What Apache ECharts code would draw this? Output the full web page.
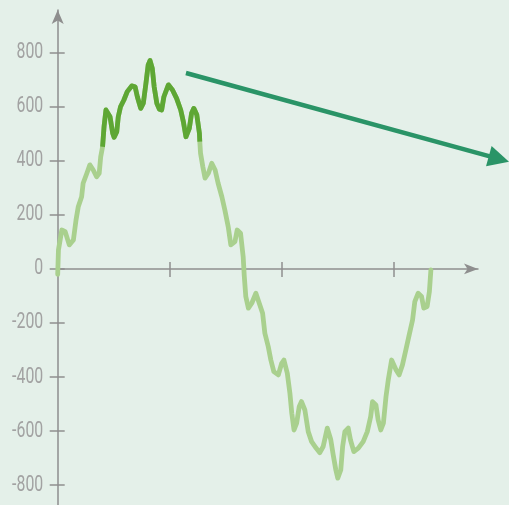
<!DOCTYPE html>
<html>
<head>
<meta charset="utf-8">
<script src="https://cdn.jsdelivr.net/npm/echarts@6/dist/echarts.min.js"></script>
<style>
  html, body { margin: 0; padding: 0; background: #e4f0e9; }
  #chart { width: 509px; height: 505px; }
</style>
</head>
<body>
<div id="chart"></div>
<script>
  // curve, x in axis units (0..10), y in axis values
  const xs = [0.00, 0.02, 0.11, 0.20, 0.31, 0.42, 0.49, 0.55, 0.64, 0.68, 0.78, 0.86, 0.95, 1.04, 1.11, 1.15,
    1.20, 1.24, 1.29, 1.34, 1.40, 1.47, 1.51, 1.58, 1.62, 1.68, 1.77, 1.86, 1.98, 2.07, 2.13, 2.22, 2.29, 2.36,
    2.42, 2.47, 2.53, 2.58, 2.65, 2.72, 2.78, 2.84, 2.96, 3.07, 3.18, 3.29, 3.36, 3.43, 3.52, 3.58, 3.64, 3.72,
    3.79, 3.80, 3.82, 3.88, 3.94, 4.03, 4.12, 4.21, 4.29, 4.39, 4.47, 4.56, 4.63, 4.74, 4.80, 4.89, 4.96, 4.99,
    5.03, 5.10, 5.19, 5.30, 5.39, 5.48, 5.54, 5.63, 5.70, 5.78, 5.90, 5.99, 6.05, 6.14, 6.21, 6.26, 6.32, 6.39,
    6.46, 6.52, 6.61, 6.70, 6.79, 6.91, 7.01, 7.10, 7.21, 7.30, 7.37, 7.44, 7.49, 7.57, 7.62, 7.68, 7.77, 7.83,
    7.92, 8.04, 8.17, 8.28, 8.37, 8.42, 8.51, 8.57, 8.64, 8.71, 8.78, 8.84, 8.93, 9.05, 9.13, 9.22, 9.31, 9.40,
    9.49, 9.55, 9.64, 9.73, 9.79, 9.88, 9.94, 9.98];
  const ys = [-20, 70, 144, 138, 89, 107, 181, 230, 267, 317, 354, 385, 366, 341, 354, 415,
    452, 527, 588, 594, 563, 502, 487, 508, 563, 600, 625, 656, 677, 674, 637, 594, 613, 687,
    755, 771, 742, 674, 613, 591, 588, 637, 681, 662, 631, 588, 545, 489, 520, 576, 594, 570,
    502, 471, 428, 379, 336, 354, 391, 366, 317, 267, 218, 156, 89, 101, 144, 132, 45, -28,
    -102, -145, -127, -90, -127, -164, -238, -287, -337, -380, -392, -349, -337, -386, -460, -534, -596, -571,
    -509, -491, -522, -602, -639, -663, -680, -657, -589, -630, -690, -745, -774, -744, -657, -602, -589, -633,
    -676, -663, -639, -602, -546, -491, -503, -559, -596, -571, -472, -411, -337, -374, -392, -355, -300, -244,
    -189, -121, -90, -102, -145, -139, -84, -4];
  // highlighted stretch of the curve
  const highlightFrom = 1.2;
  const highlightTo = 3.8;
  const xTicks = [3, 6, 9];
  const yTicks = [-800, -600, -400, -200, 0, 200, 400, 600, 800];
  // the arrow annotation, in axis units (end = centre of the head)
  const arrowFrom = [3.43, 725];
  const arrowTo = [11.80, 407];

  const axisColor = '#8e8e8e';
  const labelColor = '#a2a2a2';
  const lightGreen = '#a9d08e';
  const darkGreen = '#5ea734';
  const arrowGreen = '#2a9467';

  const allPoints = xs.map((x, i) => [x, ys[i]]);
  const highPoints = allPoints.filter(p => p[0] >= highlightFrom && p[0] <= highlightTo);

  const chart = echarts.init(document.getElementById('chart'));
  const xMin = 0, xMax = 11.24;
  const yMin = -892, yMax = 958;

  const option = {
    animation: false,
    backgroundColor: '#e4f0e9',
    grid: { left: 57.7, right: 31, top: 10, bottom: -5, containLabel: false, outerBoundsMode: 'none' },
    xAxis: [
      {
        type: 'value', min: xMin, max: xMax,
        axisLine: {
          show: true, onZero: true,
          symbol: ['none', 'arrow'], symbolSize: [8, 14],
          lineStyle: { color: axisColor, width: 1.5 },
        },
        axisTick: { show: true, customValues: xTicks, length: 8, lineStyle: { color: axisColor, width: 1.5 } },
        axisLabel: { show: false },
        splitLine: { show: false },
      },
      {
        type: 'value', position: 'bottom', min: xMin, max: xMax,
        axisLine: { show: false, onZero: true },
        axisTick: { show: true, inside: true, customValues: xTicks, length: 7, lineStyle: { color: axisColor, width: 1.5 } },
        axisLabel: { show: false },
        splitLine: { show: false },
      },
    ],
    yAxis: [
      {
        type: 'value', min: yMin, max: yMax,
        axisLine: {
          show: true, onZero: true,
          symbol: ['none', 'arrow'], symbolSize: [9, 14],
          lineStyle: { color: axisColor, width: 1.5 },
        },
        axisTick: { show: true, customValues: yTicks, length: 8, lineStyle: { color: axisColor, width: 1.5 } },
        // labels are drawn below as condensed text
        axisLabel: { show: false },
        splitLine: { show: false },
      },
      {
        type: 'value', position: 'left', min: yMin, max: yMax,
        axisLine: { show: false, onZero: true },
        axisTick: { show: true, inside: true, customValues: yTicks, length: 7, lineStyle: { color: axisColor, width: 1.5 } },
        axisLabel: { show: false },
        splitLine: { show: false },
      },
    ],
    series: [
      {
        type: 'line', data: allPoints, showSymbol: false, symbol: 'none',
        lineStyle: { color: lightGreen, width: 4.8, join: 'round', cap: 'round' },
        z: 2,
      },
      {
        type: 'line', data: highPoints, showSymbol: false, symbol: 'none',
        lineStyle: { color: darkGreen, width: 4.8, join: 'round' },
        z: 3,
      },
      {
        // the arrow runs past the axis end, so it is not clipped
        type: 'lines', coordinateSystem: 'cartesian2d', clip: false, silent: true, z: 4,
        symbol: ['none', 'triangle'], symbolSize: [19, 21],
        lineStyle: { color: arrowGreen, width: 4.5, opacity: 1 },
        data: [{ coords: [arrowFrom, arrowTo] }],
      },
    ],
  };
  chart.setOption(option);

  // tick labels in a narrow face: the axis font is squeezed sideways
  const axisX = chart.convertToPixel({ xAxisIndex: 0 }, 0);
  chart.setOption({
    graphic: yTicks.map(v => ({
      type: 'text',
      x: axisX - 14.5,
      y: chart.convertToPixel({ yAxisIndex: 0 }, v),
      scaleX: 0.72,
      silent: true,
      style: {
        text: String(v),
        fill: labelColor,
        font: '22px Roboto',
        align: 'right',
        verticalAlign: 'middle',
      },
    })),
  });
</script>
</body>
</html>
